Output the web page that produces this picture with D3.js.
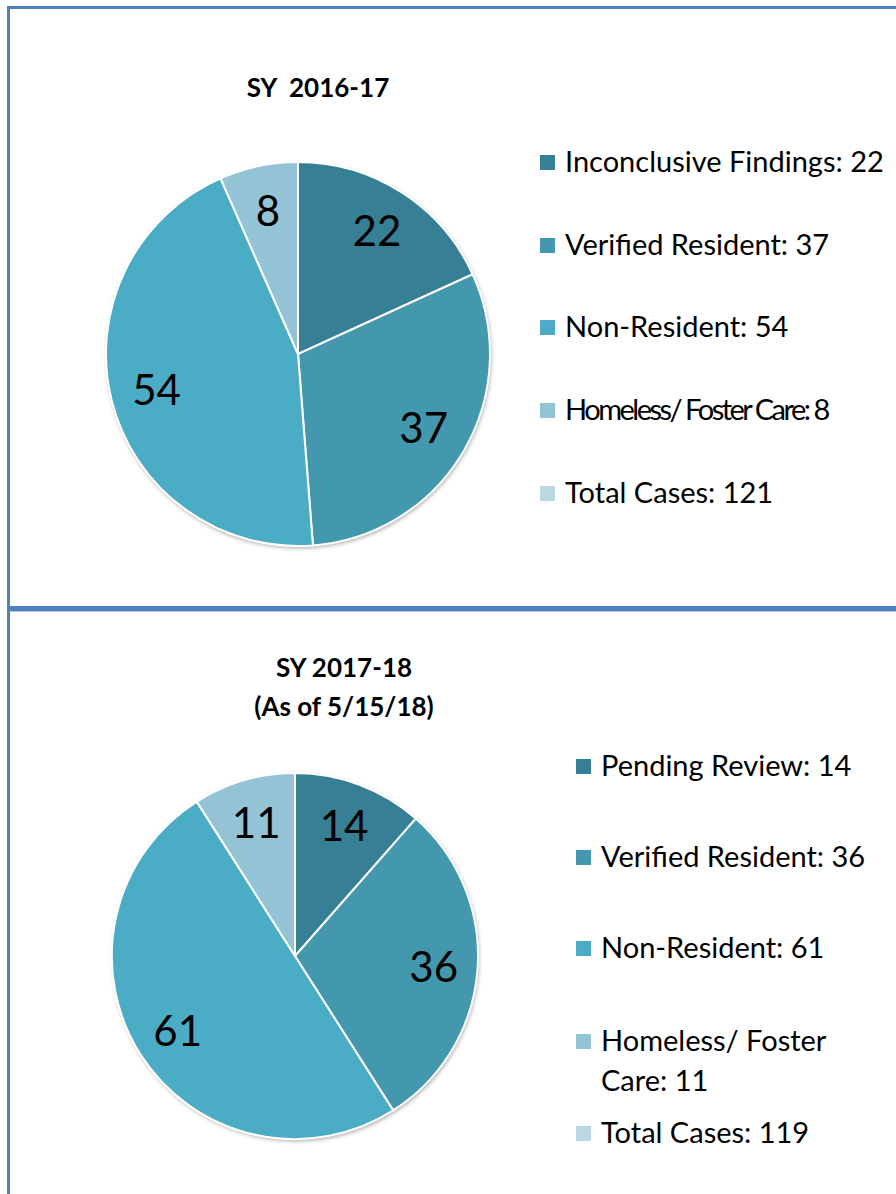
<!DOCTYPE html>
<html lang="en">
<head>
    <meta charset="UTF-8">
    <title>Residency Cases</title>
    <script src="https://d3js.org/d3.v7.min.js"></script>
    <style>
        body { margin: 0; background: #fff; }
        text { font-family: Lato, "Open Sans", sans-serif; fill: #000; }
    </style>
</head>
<body>
    <div id="chart"></div>

    <script>
        // SY 2016-17
        const labels1 = ["Inconclusive Findings", "Verified Resident", "Non-Resident", "Homeless/ Foster Care"];
        const values1 = [22, 37, 54, 8];
        const total1 = 121;

        // SY 2017-18
        const labels2 = ["Pending Review", "Verified Resident", "Non-Resident", "Homeless/ Foster Care"];
        const values2 = [14, 36, 61, 11];
        const total2 = 119;

        const colors = ["#367f95", "#4398ae", "#4bacc6", "#93c3d4", "#b9d8e4"];

        const width = 896, height = 1194;
        const svg = d3.select("#chart").append("svg")
            .attr("width", width)
            .attr("height", height);

        // soft shadow under the pies
        const defs = svg.append("defs");
        const f = defs.append("filter").attr("id", "shadow")
            .attr("x", "-10%").attr("y", "-10%").attr("width", "120%").attr("height", "120%");
        f.append("feDropShadow").attr("dx", 1).attr("dy", 2).attr("stdDeviation", 2)
            .attr("flood-color", "#000").attr("flood-opacity", 0.35);

        // frame lines
        const blue = "#4f81bd";
        svg.append("line").attr("x1", 8.5).attr("x2", 8.5).attr("y1", 6).attr("y2", height)
            .attr("stroke", blue).attr("stroke-width", 3);
        svg.append("line").attr("x1", 7).attr("x2", width).attr("y1", 7.5).attr("y2", 7.5)
            .attr("stroke", blue).attr("stroke-width", 3);
        svg.append("line").attr("x1", 7).attr("x2", width).attr("y1", 608.5).attr("y2", 608.5)
            .attr("stroke", blue).attr("stroke-width", 5);
        svg.append("line").attr("x1", 10).attr("x2", width).attr("y1", 611.5).attr("y2", 611.5)
            .attr("stroke", "#b3c8e3").attr("stroke-width", 1);

        function drawPanel(cfg) {
            const g = svg.append("g");

            // title
            const title = g.append("text")
                .attr("x", cfg.titleX)
                .attr("y", cfg.titleY)
                .attr("text-anchor", "middle")
                .style("font-weight", "bold")
                .style("font-size", "26px");
            cfg.title.forEach((t, i) => {
                title.append("tspan").attr("x", cfg.titleX).attr("dy", i === 0 ? 0 : 39)
                    .style("white-space", "pre").text(t);
            });

            // pie
            const pie = d3.pie().sort(null).value(d => d.v);
            const arcs = pie(cfg.values.map((v, i) => ({ v, label: cfg.labels[i], i })));
            const arc = d3.arc().innerRadius(0).outerRadius(cfg.r);
            const labelArc = d3.arc().innerRadius(cfg.r * 0.52).outerRadius(cfg.r);

            const pg = g.append("g").attr("transform", `translate(${cfg.cx},${cfg.cy})`);
            pg.append("circle").attr("r", cfg.r).attr("fill", "#fff").attr("filter", "url(#shadow)");
            pg.selectAll("path").data(arcs).enter().append("path")
                .attr("d", arc)
                .attr("fill", d => colors[d.data.i])
                .attr("stroke", "#fff")
                .attr("stroke-width", 2);
            pg.selectAll("text.val").data(arcs).enter().append("text")
                .attr("class", "val")
                .attr("transform", d => `translate(${labelArc.centroid(d)})`)
                .attr("text-anchor", "middle")
                .attr("dy", "0.36em")
                .style("font-size", "42px")
                .text(d => d.data.v);

            // legend
            const items = cfg.labels.map((l, i) => ({ text: l + ": " + cfg.values[i], c: colors[i] }));
            items.push({ text: "Total Cases: " + cfg.total, c: colors[4] });
            items.forEach((it, i) => {
                const y = cfg.legendY[i];
                g.append("rect")
                    .attr("x", cfg.legendX).attr("y", y - 7)
                    .attr("width", 15).attr("height", 15)
                    .attr("fill", it.c);
                const t = g.append("text")
                    .attr("x", cfg.legendX + 25)
                    .attr("y", y)
                    .style("font-size", "29px");
                const lines = cfg.wrap && cfg.wrap[i] ? cfg.wrap[i] : [it.text];
                lines.forEach((ln, k) => {
                    t.append("tspan").attr("x", cfg.legendX + 25).attr("dy", k === 0 ? "0.36em" : "1.35em").text(ln);
                });
                if (cfg.condensed === i) t.style("letter-spacing", "-2.5px");
            });
        }

        drawPanel({
            title: ["SY  2016-17"],
            titleX: 318, titleY: 97,
            labels: labels1, values: values1, total: total1,
            cx: 298, cy: 354, r: 192,
            legendX: 540,
            legendY: [162, 245, 327, 410, 493],
            condensed: 3
        });

        drawPanel({
            title: ["SY 2017-18", "(As of 5/15/18)"],
            titleX: 344, titleY: 677,
            labels: labels2, values: values2, total: total2,
            cx: 295, cy: 956, r: 183,
            legendX: 576,
            legendY: [766, 857, 948, 1041, 1133],
            wrap: { 3: ["Homeless/ Foster", "Care: " + values2[3]] }
        });
    </script>
</body>
</html>
